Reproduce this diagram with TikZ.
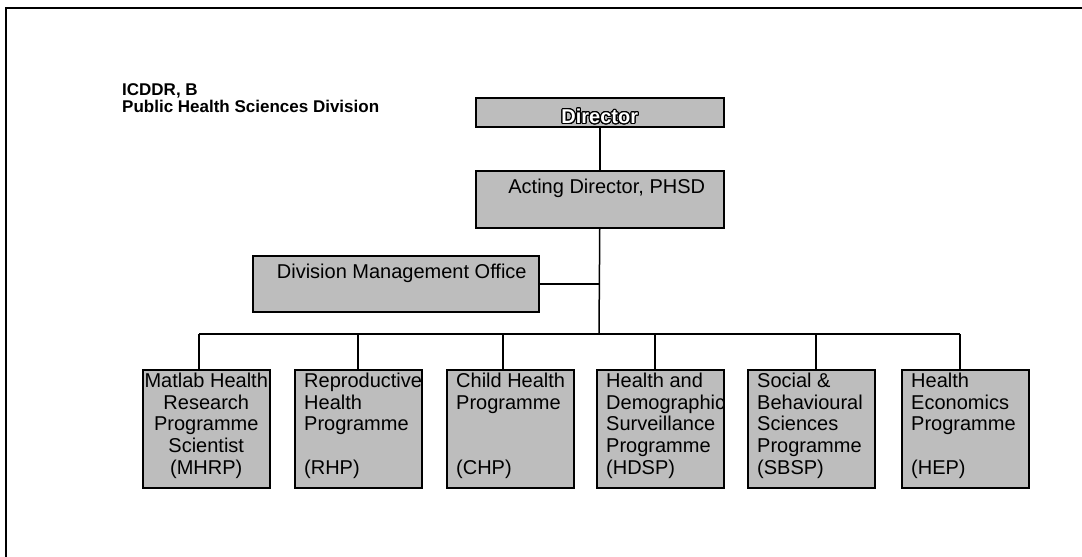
\documentclass[tikz,border=0pt]{standalone}
\usepackage{fontspec}
\setmainfont{Liberation Sans}
\usepackage{contour}
\contourlength{1pt}
\contournumber{24}

\definecolor{boxgrey}{gray}{0.74}

\tikzset{
  orgbox/.style={draw=black, line width=1.5pt, fill=boxgrey, inner sep=0pt,
                 anchor=north west, minimum width=#1},
  orgbox/.default=127pt,
  link/.style={draw=black, line width=1.5pt},
  boxtext/.style={inner sep=0pt, font=\fontsize{20}{21.6}\selectfont},
  lefttext/.style={boxtext, align=left, anchor=north west},
  titletext/.style={inner sep=0pt, anchor=base west,
                    font=\bfseries\fontsize{17}{17}\selectfont},
  frame/.style={draw=black, line width=1.8pt}
}

\begin{document}
\begin{tikzpicture}[x=1pt, y=-1pt]
  \useasboundingbox (0,0) rectangle (1082,557);

  % page frame
  \draw[frame] (6,8) rectangle (1100,580);

  % heading
  \node[titletext] (org) at (122,95) {ICDDR, B};
  \node[titletext] (div) at (122,112) {Public Health Sciences Division};

  % upper management
  \node[orgbox=248pt, minimum height=29pt] (dir) at (475,97) {};
  \node[boxtext, anchor=base, font=\bfseries\fontsize{20}{22}\selectfont]
       (dirT) at ([yshift=4pt]dir.south) {\contour{black}{\textcolor{white}{Director}}};

  \node[orgbox=248pt, minimum height=57pt] (act) at (475,170) {};
  \node[boxtext, anchor=base] (actT) at ([xshift=7pt, yshift=-23.5pt]act.north)
       {Acting Director, PHSD};

  \node[orgbox=286pt, minimum height=56pt] (dmo) at (252,255) {};
  \node[boxtext, anchor=base] (dmoT) at ([xshift=6pt, yshift=-23pt]dmo.north)
       {Division Management Office};

  % programme boxes
  \node[orgbox, minimum height=118pt] (mhrp) at (142,369) {};
  \node[orgbox, minimum height=118pt] (rhp)  at (294,369) {};
  \node[orgbox, minimum height=118pt] (chp)  at (446,369) {};
  \node[orgbox, minimum height=118pt] (hdsp) at (596,369) {};
  \node[orgbox, minimum height=118pt] (sbsp) at (747,369) {};
  \node[orgbox, minimum height=118pt] (hep)  at (901,369) {};

  \node[boxtext, align=center, anchor=north] (mhrpT) at ([yshift=-4pt]mhrp.north)
       {Matlab Health\\Research\\Programme\\Scientist\\(MHRP)};
  \node[lefttext] (rhpT) at ([xshift=10pt, yshift=-4pt]rhp.north west)
       {Reproductive\\Health\\Programme\\[21.6pt](RHP)};
  \node[lefttext] (chpT) at ([xshift=10pt, yshift=-4pt]chp.north west)
       {Child Health\\Programme\\[43.2pt](CHP)};
  \node[lefttext] (hdspT) at ([xshift=10pt, yshift=-4pt]hdsp.north west)
       {Health and\\Demographic\\Surveillance\\Programme\\(HDSP)};
  \node[lefttext] (sbspT) at ([xshift=10pt, yshift=-4pt]sbsp.north west)
       {Social \&\\Behavioural\\Sciences\\Programme\\(SBSP)};
  \node[lefttext] (hepT) at ([xshift=10pt, yshift=-4pt]hep.north west)
       {Health\\Economics\\Programme\\[21.6pt](HEP)};

  % connectors
  \coordinate (bus) at (599,334);
  \coordinate (busL) at (199,334);
  \coordinate (busR) at (960,334);
  \draw[link] (dir.south) -- (act.north);
  \draw[link] (act.south) -- (bus);
  \draw[link] (dmo.east) -- (dmo.east -| bus);
  \draw[link] (busL) -- (busR);
  \draw[link] (busL) -- (busL |- mhrp.north);
  \draw[link] (358,334) -- (358,369);
  \draw[link] (503,334) -- (503,369);
  \draw[link] (655,334) -- (655,369);
  \draw[link] (816,334) -- (816,369);
  \draw[link] (busR) -- (busR |- hep.north);
\end{tikzpicture}
\end{document}
